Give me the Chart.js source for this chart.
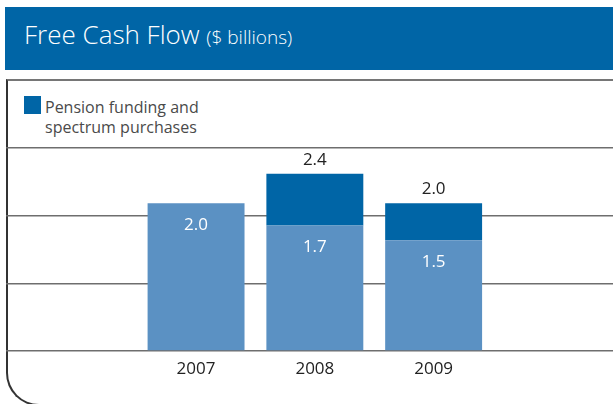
<!DOCTYPE html>
<html>
<head>
<meta charset="utf-8">
<script src="https://cdn.jsdelivr.net/npm/chart.js@4/dist/chart.umd.min.js"></script>
<style>
  body { margin: 0; width: 613px; height: 404px; overflow: hidden; background: #fff; font-family: "Open Sans", sans-serif; }
  #band { position: absolute; left: 5px; top: 7px; width: 608px; height: 63px; background: #0065a6; }
  #title { position: absolute; left: 24px; top: 21px; color: #fff; font-weight: 300; font-size: 26px; white-space: nowrap; line-height: 1; }
  #title small { font-size: 19px; font-weight: 300; }
  #box { position: absolute; left: 6px; top: 79px; width: 640px; height: 327px;
         border-top: 2px solid #767676; border-left: 2px solid #333; border-bottom: 2px solid #333;
         border-bottom-left-radius: 33px; box-sizing: border-box; }
  #legend { position: absolute; left: 24px; top: 96px; font-size: 16px; color: #4a4a4a; line-height: 20px; }
  #legend .sw { position: absolute; left: 0; top: 0; width: 17px; height: 18px; background: #0065a6; }
  #legend .tx { position: absolute; left: 21px; top: 1px; white-space: nowrap; }
  #wrap { position: absolute; left: 6px; top: 140px; width: 607px; height: 251px; }
</style>
</head>
<body>
<div id="band"></div>
<div id="title">Free Cash Flow <small>($ billions)</small></div>
<div id="box"></div>
<div id="legend"><div class="sw"></div><div class="tx">Pension funding and<br>spectrum purchases</div></div>
<div id="wrap"><canvas id="chart"></canvas></div>
<script>
const years = [2007, 2008, 2009];
const baseCash = [2.0, 1.7, 1.5];
const pensionSpectrum = [0, 0.7, 0.5];
const gridTicks = [0, 0.9167, 1.8333, 2.75];

const lightBlue = '#5b91c3';
const darkBlue = '#0065a6';

// value labels: inside light bars, totals above the dark part
const labelPlugin = {
    id: 'labels',
    afterDatasetsDraw(chart) {
        const ctx = chart.ctx;
        ctx.save();
        ctx.textAlign = 'center';
        ctx.textBaseline = 'middle';
        ctx.font = '17px "Open Sans", sans-serif';
        const lower = chart.getDatasetMeta(0).data;
        const upper = chart.getDatasetMeta(1).data;
        years.forEach((y, i) => {
            ctx.fillStyle = '#ffffff';
            ctx.fillText(baseCash[i].toFixed(1), lower[i].x, lower[i].y + 22);
            if (pensionSpectrum[i] > 0) {
                ctx.fillStyle = '#222222';
                const total = baseCash[i] + pensionSpectrum[i];
                ctx.fillText(total.toFixed(1), upper[i].x, upper[i].y - 14);
            }
        });
        ctx.restore();
    }
};

const ctx = document.getElementById('chart').getContext('2d');
const chart = new Chart(ctx, {
    type: 'bar',
    data: {
        datasets: [{
            label: 'Free cash flow',
            data: years.map((y, i) => ({ x: y, y: baseCash[i] })),
            backgroundColor: lightBlue,
            borderWidth: 0
        }, {
            label: 'Pension funding and spectrum purchases',
            data: years.map((y, i) => ({ x: y, y: pensionSpectrum[i] })),
            backgroundColor: darkBlue,
            borderWidth: 0
        }]
    },
    options: {
        responsive: true,
        maintainAspectRatio: false,
        animation: false,
        datasets: { bar: { categoryPercentage: 1, barPercentage: 0.816 } },
        layout: { padding: { top: 8, left: 0, right: 0, bottom: 0 } },
        plugins: { legend: { display: false }, tooltip: { enabled: false } },
        scales: {
            x: {
                type: 'linear',
                offset: false,
                stacked: true,
                min: 2005.4,
                max: 2010.51,
                afterBuildTicks: (s) => { s.ticks = years.map(v => ({ value: v })); },
                afterFit: (s) => { s.height = 40; },
                grid: { display: false, drawTicks: false },
                border: { display: false },
                ticks: {
                    callback: (v) => String(v),
                    color: '#222',
                    padding: 8,
                    maxRotation: 0,
                    font: { family: '"Open Sans", sans-serif', size: 17 }
                }
            },
            y: {
                stacked: true,
                min: 0,
                max: 2.75,
                afterBuildTicks: (s) => { s.ticks = gridTicks.map(v => ({ value: v })); },
                afterFit: (s) => { s.width = 0; },
                ticks: { display: false },
                border: { display: false },
                grid: { color: '#6e6e6e', lineWidth: 1.6, drawTicks: false }
            }
        }
    },
    plugins: [labelPlugin]
});
</script>
</body>
</html>
